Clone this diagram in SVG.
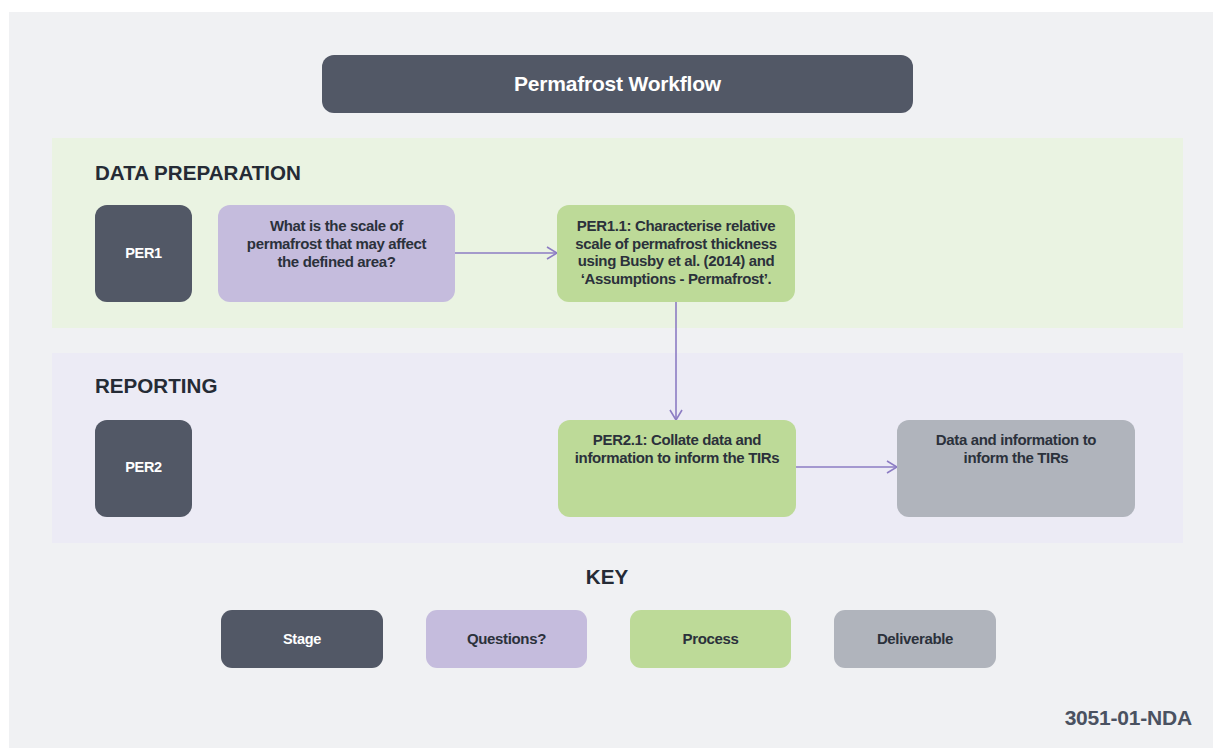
<svg xmlns="http://www.w3.org/2000/svg" width="1213" height="751" viewBox="0 0 1213 751">
<style>
text{font-family:"Liberation Sans",Arial,sans-serif;font-weight:bold;}
.stage{fill:#525866;}
.q{fill:#c5bcdd;}
.p{fill:#bdda98;}
.d{fill:#b0b4bc;}
.wt{fill:#ffffff;font-size:14.5px;text-anchor:middle;letter-spacing:-0.3px;}
.bt{fill:#2b313b;font-size:15px;text-anchor:middle;letter-spacing:-0.35px;}
.hd{fill:#252b35;font-size:20.6px;}
.conn{stroke:#8c7cc3;stroke-width:1.6;fill:none;}
</style>
<defs>
<marker id="arr" viewBox="0 0 12 14" refX="11" refY="7" markerWidth="12" markerHeight="14" markerUnits="userSpaceOnUse" orient="auto">
<path d="M1,1 L11,7 L1,13" fill="none" stroke="#8c7cc3" stroke-width="1.6"/>
</marker>
</defs>
<rect x="0" y="0" width="1213" height="751" fill="#ffffff"/>
<rect x="9" y="12" width="1204" height="736" fill="#f0f1f3"/>
<rect x="52" y="138" width="1131" height="190" fill="#eaf3e2"/>
<rect x="52" y="353" width="1131" height="190" fill="#ecebf5"/>

<g id="title">
<rect x="322" y="55" width="591" height="58" rx="12" class="stage"/>
<text x="617.5" y="91" fill="#ffffff" font-size="21" text-anchor="middle" letter-spacing="-0.2">Permafrost Workflow</text>
</g>

<text x="95" y="180" class="hd">DATA PREPARATION</text>
<text x="95" y="393" class="hd">REPORTING</text>

<g id="connectors">
<line x1="455" y1="253" x2="557" y2="253" class="conn" marker-end="url(#arr)"/>
<line x1="676" y1="302" x2="676" y2="420" class="conn" marker-end="url(#arr)"/>
<line x1="796" y1="467" x2="897" y2="467" class="conn" marker-end="url(#arr)"/>
</g>

<g id="PER1">
<rect x="95" y="205" width="97" height="97" rx="12" class="stage"/>
<text x="143.5" y="258" class="wt">PER1</text>
</g>
<g id="Q1">
<rect x="218" y="205" width="237" height="97" rx="12" class="q"/>
<text x="336.5" y="231" class="bt">What is the scale of</text>
<text x="336.5" y="249" class="bt">permafrost that may affect</text>
<text x="336.5" y="267" class="bt">the defined area?</text>
</g>
<g id="PER1.1">
<rect x="557" y="205" width="238" height="97" rx="12" class="p"/>
<text x="676" y="231" class="bt">PER1.1: Characterise relative</text>
<text x="676" y="249" class="bt">scale of permafrost thickness</text>
<text x="676" y="266" class="bt">using Busby et al. (2014) and</text>
<text x="676" y="284" class="bt">‘Assumptions - Permafrost’.</text>
</g>
<g id="PER2">
<rect x="95" y="420" width="97" height="97" rx="12" class="stage"/>
<text x="143.5" y="472" class="wt">PER2</text>
</g>
<g id="PER2.1">
<rect x="558" y="420" width="238" height="97" rx="12" class="p"/>
<text x="677" y="445" class="bt">PER2.1: Collate data and</text>
<text x="677" y="463" class="bt">information to inform the TIRs</text>
</g>
<g id="D1">
<rect x="897" y="420" width="238" height="97" rx="12" class="d"/>
<text x="1016" y="445" class="bt">Data and information to</text>
<text x="1016" y="463" class="bt">inform the TIRs</text>
</g>

<text x="607" y="584" class="hd" text-anchor="middle" font-size="19.5">KEY</text>
<g id="key-stage">
<rect x="221" y="610" width="162" height="58" rx="11" class="stage"/>
<text x="302" y="644" class="wt">Stage</text>
</g>
<g id="key-questions">
<rect x="426" y="610" width="161" height="58" rx="11" class="q"/>
<text x="506.5" y="644" class="bt">Questions?</text>
</g>
<g id="key-process">
<rect x="630" y="610" width="161" height="58" rx="11" class="p"/>
<text x="710.5" y="644" class="bt">Process</text>
</g>
<g id="key-deliverable">
<rect x="834" y="610" width="162" height="58" rx="11" class="d"/>
<text x="915" y="644" class="bt">Deliverable</text>
</g>

<text x="1192" y="725" fill="#4a5261" font-size="21" text-anchor="end" letter-spacing="-0.2">3051-01-NDA</text>
</svg>
